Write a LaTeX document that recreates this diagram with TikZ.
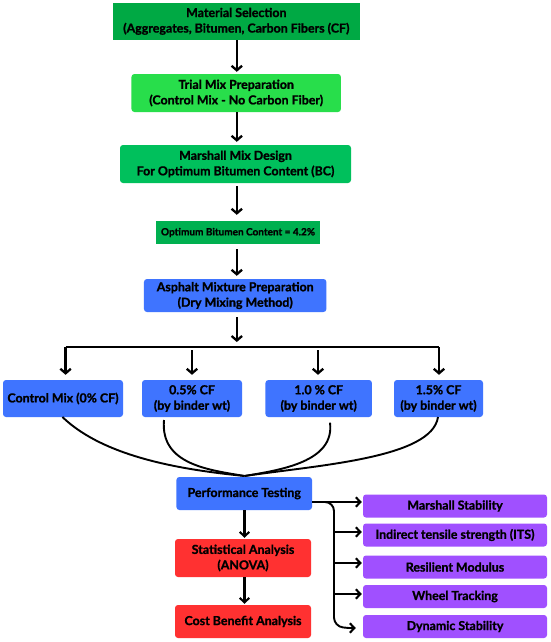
\documentclass[tikz,border=0pt]{standalone}
\usepackage{fontspec}
\setmainfont{Lato}[BoldFeatures={FakeBold=1.2}]
\usetikzlibrary{arrows.meta,calc}
\definecolor{gA}{HTML}{00A944}
\definecolor{gB}{HTML}{28DE4B}
\definecolor{gC}{HTML}{00C05C}
\definecolor{gD}{HTML}{00B050}
\definecolor{bl}{HTML}{3F74FF}
\definecolor{rd}{HTML}{FF3131}
\definecolor{pu}{HTML}{A050FF}
\tikzset{
  box/.style={rounded corners=3pt, align=center, font=\bfseries\fontsize{12.4}{15.5}\selectfont, inner sep=1pt},
  arr/.style={line width=2.3pt, -{Straight Barb[length=4.5pt,width=10.5pt]}},
  sarr/.style={line width=2.1pt, -{Straight Barb[length=4.5pt,width=9.5pt]}},
  link/.style={line width=1.9pt},
}
\begin{document}
\begin{tikzpicture}[x=1pt,y=-1pt]
\useasboundingbox (0,0) rectangle (550,642);
\fill[white] (0,0) rectangle (550,642);
\node[box, rounded corners=0pt, fill=gA, minimum width=246.5pt, minimum height=37.5pt] (b1) at (236.3,21.3) {Material Selection\\(Aggregates, Bitumen, Carbon Fibers (CF)};
\node[box, fill=gB, minimum width=209.5pt, minimum height=38pt] (b2) at (236.2,93) {Trial Mix Preparation\\(Control Mix - No Carbon Fiber)};
\node[box, fill=gC, minimum width=231pt, minimum height=38pt] (b3) at (235.5,164) {Marshall Mix Design\\For Optimum Bitumen Content (BC)};
\node[box, rounded corners=0pt, fill=gD, minimum width=164pt, minimum height=23pt, font=\bfseries\fontsize{10}{11}\selectfont] (b4) at (238,232.5) {Optimum Bitumen Content = 4.2\%};
\node[box, fill=bl, minimum width=182.5pt, minimum height=33pt] (b5) at (235.2,295.5) {Asphalt Mixture Preparation\\(Dry Mixing Method)};
\node[box, fill=bl, minimum width=120pt, minimum height=37pt] (c0) at (63,398.5) {Control Mix (0\% CF)};
\node[box, fill=bl, minimum width=100pt, minimum height=37pt] (c1) at (192,398.5) {0.5\% CF\\(by binder wt)};
\node[box, fill=bl, minimum width=106.5pt, minimum height=37pt] (c2) at (318.7,398.5) {1.0 \% CF\\(by binder wt)};
\node[box, fill=bl, minimum width=89pt, minimum height=37pt] (c3) at (438.5,398.5) {1.5\% CF\\(by binder wt)};
\node[box, fill=bl, minimum width=135.6pt, minimum height=33pt] (pt) at (244.2,493.5) {Performance Testing};
\node[box, fill=rd, minimum width=136pt, minimum height=38pt] (sa) at (243,558) {Statistical Analysis\\(ANOVA)};
\node[box, fill=rd, minimum width=136pt, minimum height=33pt] (cb) at (243,621.5) {Cost Benefit Analysis};
\foreach \n/\y/\t in {p1/506/Marshall Stability, p2/535/Indirect tensile strength (ITS), p3/567/Resilient Modulus, p4/596.5/Wheel Tracking, p5/626.5/Dynamic Stability}
  \node[box, fill=pu, minimum width=184pt, minimum height=23pt] (\n) at (455,\y) {\t};
% top chain
\coordinate (ax) at (236.8,0);
\draw[arr] (b1.south -| ax) -- ([yshift=2pt]b2.north -| ax);
\draw[arr] (b2.south -| ax) -- ([yshift=3pt]b3.north -| ax);
\draw[arr] ([yshift=-3pt]b3.south -| ax) -- ([yshift=6pt]b4.north -| ax);
\draw[arr] ([yshift=-5pt]b4.south -| ax) -- ([yshift=3pt]b5.north -| ax);
\coordinate (barL) at (65.6,347);
\coordinate (barR) at (439,347);
\coordinate (barM) at (236.8,342);
\draw[arr] ([yshift=-5pt]b5.south -| ax) -- (barM);
\draw[line width=2.3pt] (barL) -- (barR);
\draw[arr] (barL) -- ([yshift=5pt]c0.north -| barL);
\draw[arr] (192,350) -- ([yshift=5pt]c1.north);
\draw[arr] (318,350) -- ([yshift=5pt]c2.north -| 318,0);
\draw[arr] (barR) -- ([yshift=5pt]c3.north -| barR);
% curves
\coordinate (ptin) at (244.5,476);
\draw[link] (62.4,417) .. controls (105,458) and (185,470) .. (ptin);
\draw[link] (164,420) .. controls (160,465) and (210,470) .. (ptin);
\draw[link] (330,422.7) .. controls (335,462) and (280,470) .. (ptin);
\draw[link] (438,417) .. controls (432,458) and (320,465) .. (ptin);
% bottom chain
\draw[sarr] (pt.south -| ptin) -- ([yshift=1pt]sa.north -| ptin);
\draw[sarr] (sa.south -| ptin) -- ([yshift=1pt]cb.north -| ptin);
% tests
\coordinate (ptout) at (312,502);
\coordinate (trunk) at (334,0);
\draw[sarr] (ptout) -- ([xshift=-1pt]ptout -| p1.west);
\draw[link, rounded corners=9pt] (ptout) -| (trunk |- p5.west) -- ([xshift=-14pt,yshift=-1.5pt]p5.west);
\draw[sarr] ([xshift=-16pt,yshift=-1.5pt]p5.west) -- ([xshift=-7pt,yshift=-1.5pt]p5.west);
\draw[sarr] (trunk |- 0,532) -- ([xshift=-1pt]p2.west |- 0,532);
\draw[sarr] (trunk |- 0,563) -- ([xshift=-1pt]p3.west |- 0,563);
\draw[sarr] (trunk |- 0,594) -- ([xshift=-1pt]p4.west |- 0,594);
\end{tikzpicture}
\end{document}
